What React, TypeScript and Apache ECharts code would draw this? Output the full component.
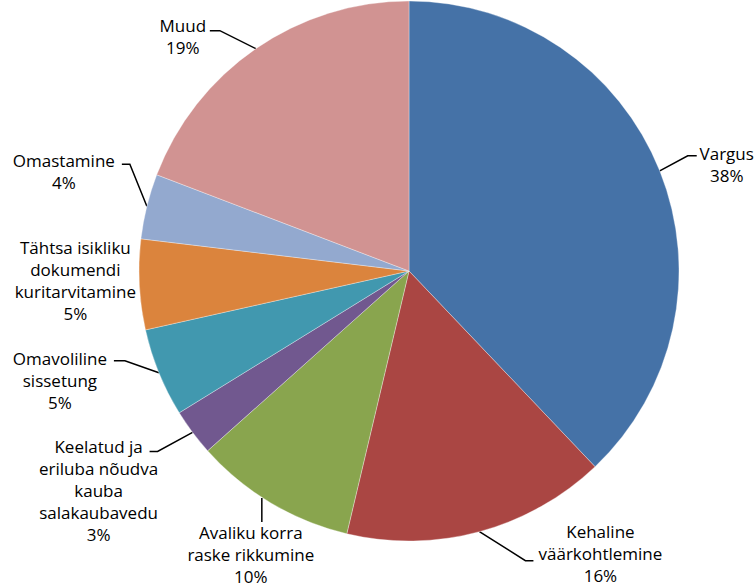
import React, { useEffect, useRef } from "react";
import * as echarts from "echarts";

// Categories (label text, with the line breaks used in the picture)
const categories: string[] = [
  "Vargus",
  "Kehaline\nväärkohtlemine",
  "Avaliku korra\nraske rikkumine",
  "Keelatud ja\neriluba nõudva\nkauba\nsalakaubavedu",
  "Omavoliline\nsissetung",
  "Tähtsa isikliku\ndokumendi\nkuritarvitamine",
  "Omastamine",
  "Muud",
];

// Shares (percent)
const shares: number[] = [37.9, 15.8, 9.7, 2.8, 5.3, 5.4, 3.9, 19.2];

const colors: string[] = [
  "#4572A7",
  "#AA4643",
  "#89A54E",
  "#71588F",
  "#4198AF",
  "#DB843D",
  "#93A9CF",
  "#D19392",
];

// Label placement relative to the slice's edge point (label centre, leader start/elbow/end)
type LabelPlace = {
  cx: number;
  cy: number;
  line: [number, number][] | null;
};
const labelPlaces: LabelPlace[] = [
  { cx: 67, cy: -6, line: [[0, 0], [28, -15], [37, -15]] },
  { cx: 121, cy: 22, line: [[0, 0], [46, 29], [54, 29]] },
  { cx: -20, cy: 52, line: [[-9, -5], [-9, 8], [-9, 19]] },
  { cx: -94, cy: 58, line: [[0, 0], [-35, 19], [-43, 19]] },
  { cx: -99, cy: 8, line: [[0, 0], [-34, -12], [-45, -12]] },
  { cx: -64, cy: -4, line: null },
  { cx: -83, cy: -35, line: [[0, 0], [-17, -42], [-25, -42]] },
  { cx: -73, cy: -12, line: [[0, 0], [-36, -18], [-46, -18]] },
];

export default function App() {
  const ref = useRef<HTMLDivElement>(null);

  useEffect(() => {
    if (!ref.current) return;
    const chart = echarts.init(ref.current, null, { renderer: "svg" });
    const data = categories.map((name, i) => ({
      name,
      value: shares[i],
      itemStyle: { color: colors[i] },
    }));
    chart.setOption({
      animation: false,
      backgroundColor: "#ffffff",
      textStyle: { fontFamily: "Open Sans" },
      series: [
        {
          type: "pie",
          center: [409, 271],
          radius: 270,
          startAngle: 90,
          clockwise: true,
          percentPrecision: 0,
          avoidLabelOverlap: false,
          silent: true,
          itemStyle: { borderColor: "rgba(255,255,255,0.55)", borderWidth: 0.6 },
          label: {
            show: true,
            position: "outside",
            formatter: "{b}\n{d}%",
            fontFamily: "Open Sans",
            fontSize: 17,
            lineHeight: 22,
            color: "#000000",
          },
          labelLine: {
            show: true,
            length: 20,
            length2: 10,
            lineStyle: { color: "#000000", width: 1.5 },
          },
          labelLayout: (params: any) => {
            const pts = params.labelLinePoints;
            const place = labelPlaces[params.dataIndex];
            if (!pts || !place) return {};
            const p0 = pts[0];
            const linePts = place.line
              ? place.line.map((d) => [p0[0] + d[0], p0[1] + d[1]])
              : [
                  [p0[0], p0[1]],
                  [p0[0], p0[1]],
                  [p0[0], p0[1]],
                ];
            return {
              x: p0[0] + place.cx,
              y: p0[1] + place.cy,
              align: "center",
              verticalAlign: "middle",
              labelLinePoints: linePts,
            };
          },
          data,
        },
      ],
    });
    return () => chart.dispose();
  }, []);

  return (
    <div
      ref={ref}
      style={{ position: "fixed", left: 0, top: 0, width: 754, height: 587 }}
    />
  );
}
